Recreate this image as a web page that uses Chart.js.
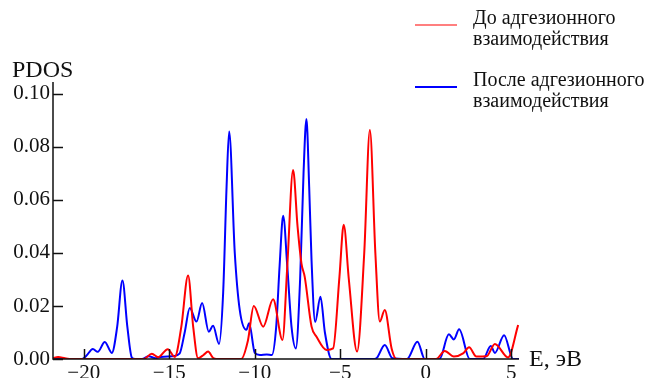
<!DOCTYPE html>
<html>
<head>
<meta charset="utf-8">
<script src="https://cdn.jsdelivr.net/npm/chart.js@4"></script>
<style>
  html, body { margin: 0; padding: 0; background: #fff; }
  #wrap { width: 651px; height: 378px; }
</style>
</head>
<body>
<div id="wrap"><canvas id="pdos" width="651" height="378"></canvas></div>
<script>
// PDOS before adhesion (red)
const energyBefore = [-21.8, -21.5, -21.1, -20.7, -16.5, -16.02, -15.65, -15.09, -14.68, -14.3, -13.9, -13.6, -13.32, -13.0, -12.73, -12.45, -12.24,
  -10.8, -10.4, -10.06, -9.51, -8.93, -8.38, -8.1, -7.76, -7.5, -7.27, -7.08, -6.68, -6.39, -5.81, -5.42, -5.05, -4.8, -4.5, -4.02,
  -3.6, -3.27, -2.95, -2.69, -2.4, -2.0, -1.71, 0.6, 1.11, 1.64, 2.18, 2.53, 2.96, 3.55, 4.04, 4.81, 5.4];
const pdosBefore = [0.0003, 0.0008, 0.0003, 0, 0, 0.002, 0.0007, 0.0037, 0.0008, 0.012, 0.0315, 0.012, 0.0003, 0.0015, 0.0028, 0.0005, 0,
  0, 0.007, 0.02, 0.0122, 0.0225, 0.0072, 0.035, 0.0713, 0.05, 0.036, 0.031, 0.0122, 0.0084, 0.0034, 0.004, 0.031, 0.0506, 0.03, 0.0028,
  0.04, 0.0864, 0.04, 0.0141, 0.0185, 0.004, 0, 0, 0.003, 0.0009, 0.0021, 0.0044, 0.0009, 0.001, 0.0057, 0.0006, 0.0128];

// PDOS after adhesion (blue)
const energyAfter = [-21.8, -20.1, -19.85, -19.47, -19.18, -18.77, -18.36, -18.05, -17.74, -17.45, -17.19, -17.0, -16.6, -16.2, -15.8, -15.5,
  -14.8, -14.4, -14.1, -13.8, -13.41, -13.08, -12.69, -12.44, -12.09, -11.85, -11.65, -11.5, -11.17, -10.88, -10.49, -10.33, -10.0,
  -9.7, -9.3, -9.0, -8.75, -8.55, -8.34, -8.1, -7.85, -7.6, -7.35, -7.15, -6.98, -6.82, -6.68, -6.47, -6.16, -5.9, -5.51,
  -3.0, -2.85, -2.4, -1.95, -1.1, -0.49, -0.06, 0.8, 1.35, 1.64, 1.95, 2.57, 3.35, 3.8, 4.04, 4.58, 5.1, 5.45];
const pdosAfter = [0, 0, 0.0012, 0.0038, 0.0027, 0.0064, 0.0023, 0.012, 0.0296, 0.012, 0.0005, 0, 0, 0.001, 0.0003, 0.0008,
  0.001, 0.002, 0.01, 0.0192, 0.0141, 0.0211, 0.0103, 0.0125, 0.0057, 0.025, 0.065, 0.0858, 0.04, 0.0185, 0.011, 0.0135, 0.0023,
  0.0015, 0.0017, 0.0015, 0.012, 0.035, 0.054, 0.035, 0.012, 0.004, 0.03, 0.07, 0.0905, 0.065, 0.037, 0.014, 0.0235, 0.01, 0,
  0, 0.0005, 0.0053, 0.0003, 0, 0.0065, 0, 0, 0.0093, 0.0074, 0.0112, 0, 0, 0.0049, 0.0023, 0.009, 0, 0];

const xTickValues = [-20, -15, -10, -5, 0, 5];
const yTickValues = [0, 0.02, 0.04, 0.06, 0.08, 0.10];
const seriesLabels = [['До адгезионного', 'взаимодействия'], ['После адгезионного', 'взаимодействия']];
const seriesColors = ['#ff0000', '#0000ff'];
const xAxisTitle = 'E, эВ';
const yAxisTitle = 'PDOS';

const SERIF = '"Liberation Serif", "Times New Roman", serif';

const toPoints = (xs, ys) => xs.map((x, i) => ({ x, y: ys[i] }));
const formatEnergy = (v) => (v < 0 ? '\u2212' + Math.abs(v) : String(v));

const axesPlugin = {
  id: 'axes',
  afterDatasetsDraw(chart) {
    const { ctx, chartArea, scales } = chart;
    const { left, right, top, bottom } = chartArea;
    ctx.save();
    ctx.strokeStyle = '#111';
    ctx.lineWidth = 1.5;
    ctx.beginPath();
    ctx.moveTo(left, top);
    ctx.lineTo(left, bottom);
    ctx.lineTo(right, bottom);
    ctx.stroke();

    // inward tick marks
    xTickValues.forEach((v) => {
      const px = Math.round(scales.x.getPixelForValue(v)) + 0.5;
      ctx.beginPath();
      ctx.moveTo(px, bottom);
      ctx.lineTo(px, bottom - 10);
      ctx.stroke();
    });
    yTickValues.forEach((v) => {
      const py = Math.round(scales.y.getPixelForValue(v)) + 0.5;
      ctx.beginPath();
      ctx.moveTo(left, py);
      ctx.lineTo(left + 10, py);
      ctx.stroke();
    });

    // axis titles
    ctx.fillStyle = '#111';
    ctx.font = '24px ' + SERIF;
    ctx.textBaseline = 'alphabetic';
    ctx.textAlign = 'left';
    ctx.fillText(yAxisTitle, 12, 77);
    ctx.fillText(xAxisTitle, 529, 366);

    // legend
    const legendRows = [24, 86];
    ctx.font = '20px ' + SERIF;
    seriesLabels.forEach((lines, i) => {
      const base = legendRows[i];
      ctx.strokeStyle = seriesColors[i];
      ctx.lineWidth = i === 0 ? 1.2 : 2;
      ctx.beginPath();
      ctx.moveTo(415, base + 1);
      ctx.lineTo(457, base + 1);
      ctx.stroke();
      ctx.fillStyle = '#111';
      lines.forEach((line, j) => ctx.fillText(line, 473, base + j * 21));
    });
    ctx.restore();
  }
};

const lineStyle = {
  borderWidth: 2,
  pointRadius: 0,
  fill: false,
  cubicInterpolationMode: 'monotone'
};

new Chart(document.getElementById('pdos').getContext('2d'), {
  type: 'line',
  data: {
    datasets: [
      { ...lineStyle, label: seriesLabels[0].join(' '), data: toPoints(energyBefore, pdosBefore), borderColor: seriesColors[0] },
      { ...lineStyle, label: seriesLabels[1].join(' '), data: toPoints(energyAfter, pdosAfter), borderColor: seriesColors[1] }
    ]
  },
  options: {
    responsive: false,
    animation: false,
    devicePixelRatio: 1,
    layout: { padding: { top: 82, right: 132, left: 0, bottom: 0 } },
    plugins: { legend: { display: false }, tooltip: { enabled: false } },
    scales: {
      x: {
        type: 'linear',
        min: -21.8,
        max: 5.45,
        grid: { display: false, drawTicks: false },
        border: { display: false },
        afterBuildTicks: (scale) => { scale.ticks = xTickValues.map((value) => ({ value })); },
        afterFit: (scale) => { scale.height = 19; },
        ticks: {
          padding: 2,
          maxRotation: 0,
          autoSkip: false,
          color: '#111',
          font: { family: SERIF, size: 21 },
          callback: (v) => formatEnergy(v)
        }
      },
      y: {
        type: 'linear',
        min: 0,
        max: 0.1045,
        grid: { display: false, drawTicks: false },
        border: { display: false },
        afterBuildTicks: (scale) => { scale.ticks = yTickValues.map((value) => ({ value })); },
        afterFit: (scale) => { scale.width = 53; },
        ticks: {
          padding: 3,
          color: '#111',
          font: { family: SERIF, size: 21 },
          callback: (v) => v.toFixed(2)
        }
      }
    }
  },
  plugins: [axesPlugin]
});
</script>
</body>
</html>
